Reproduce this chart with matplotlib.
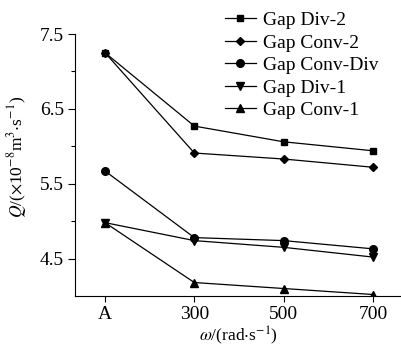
import matplotlib.pyplot as plt
import numpy as np

plt.rcParams['font.family'] = 'Liberation Serif'
plt.rcParams['mathtext.fontset'] = 'stix'

categories = ['A', '300', '500', '700']
gap_div_2 = [7.25, 6.27, 6.06, 5.94]
gap_conv_2 = [7.25, 5.91, 5.83, 5.72]
gap_conv_div = [5.67, 4.78, 4.74, 4.63]
gap_div_1 = [4.98, 4.74, 4.65, 4.52]
gap_conv_1 = [4.98, 4.18, 4.10, 4.02]

series = [
    ('Gap Div-2', gap_div_2, 's', 5),
    ('Gap Conv-2', gap_conv_2, 'D', 4),
    ('Gap Conv-Div', gap_conv_div, 'o', 5.5),
    ('Gap Div-1', gap_div_1, 'v', 5.5),
    ('Gap Conv-1', gap_conv_1, '^', 5.5),
]

fs = 14

fig = plt.figure(figsize=(4.02, 3.51), dpi=100)
ax = fig.add_axes([0.1866, 0.1567, 0.8134, 0.7464])

x = np.arange(len(categories))
for name, vals, m, ms in series:
    ax.plot(x, vals, color='black', lw=0.9, marker=m, ms=ms, label=name)

ax.set_xlim(-0.336, 3.325)
ax.set_ylim(4.0, 7.5)
ax.set_xticks(x)
ax.set_xticklabels(categories)
ax.set_yticks([4.5, 5.5, 6.5, 7.5])
ax.set_yticks([5.0, 6.0, 7.0], minor=True)
ax.tick_params(axis='both', labelsize=fs, direction='out', length=5, width=0.8, pad=3)
ax.tick_params(axis='y', which='minor', length=3, width=0.8)
ax.tick_params(axis='x', length=4)

for s in ['top', 'right']:
    ax.spines[s].set_visible(False)
for s in ['left', 'bottom']:
    ax.spines[s].set_linewidth(0.8)

ax.set_xlabel(r'$\omega$/(rad$\cdot$s$^{-1}$)', fontsize=12.5, labelpad=1)
ax.set_ylabel(r'$Q$/($\times$10$^{-8}$m$^3$$\cdot$s$^{-1}$)', fontsize=12.5)
ax.yaxis.set_label_coords(-0.14, 0.53)

ax.legend(loc='upper left', bbox_to_anchor=(0.53, 1.0), bbox_transform=fig.transFigure,
          frameon=False, fontsize=fs, handlelength=1.6, handletextpad=0.35,
          labelspacing=0.25, borderaxespad=0.2)

fig.savefig('out.png', dpi=100)
